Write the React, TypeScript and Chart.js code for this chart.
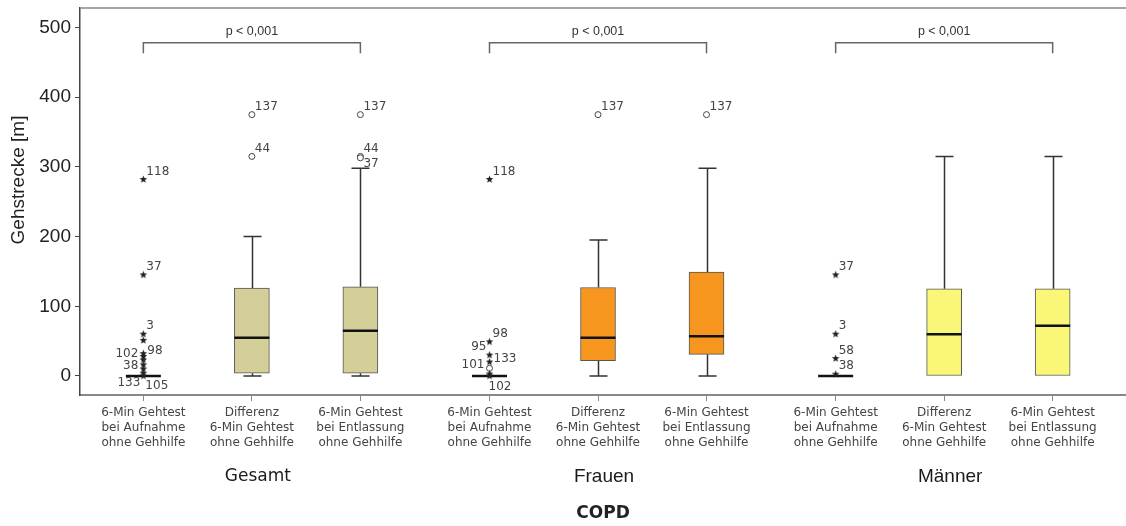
import React, { useEffect, useRef } from 'react';
import { Chart, registerables } from 'chart.js';

Chart.register(...registerables);

// ---- data ---------------------------------------------------------------
const groupNames = ['Gesamt', 'Frauen', 'Männer'];
const measureLabels = [
  ['6-Min Gehtest', 'bei Aufnahme', 'ohne Gehhilfe'],
  ['Differenz', '6-Min Gehtest', 'ohne Gehhilfe'],
  ['6-Min Gehtest', 'bei Entlassung', 'ohne Gehhilfe'],
];
const groupColors = ['#d4cf98', '#f7961e', '#faf778'];
const yAxisTitle = 'Gehstrecke [m]';
const xAxisTitle = 'COPD';
const pValueText = 'p < 0,001';
const yTickValues = [0, 100, 200, 300, 400, 500];

// Box statistics, ordered Gesamt (3 boxes), Frauen (3), Männer (3)
const whiskerLow = [0, 0, 0, 0, 0, 0, 0, 0, 0];
const quartile1 = [0, 4, 4, 0, 22, 31, 0, 0, 0];
const medians = [0, 55, 65, 0, 55, 57, 0, 60, 72];
const quartile3 = [0, 126, 128, 0, 127, 149, 0, 125, 125];
const whiskerHigh = [0, 200, 298, 0, 195, 298, 0, 315, 315];

// Extreme values (*): [box, value, case number]
const extremes: [number, number, string][] = [
  [0, 282, '118'], [0, 145, '37'], [0, 60, '3'], [0, 51, ''], [0, 32, '98'],
  [0, 28, '102'], [0, 23, ''], [0, 16, ''], [0, 10, '38'], [0, 4, '133'], [0, 0, '105'],
  [3, 282, '118'], [3, 49, '98'], [3, 30, '95'], [3, 20, '133'], [3, 3, ''], [3, 0, '102'],
  [6, 145, '37'], [6, 60, '3'], [6, 25, '58'], [6, 2.5, '38'],
];
// Outliers (o): [box, value, case number]
const outliers: [number, number, string][] = [
  [1, 375, '137'], [1, 315, '44'],
  [2, 375, '137'], [2, 315, '44'], [2, 313, '37'],
  [3, 11, '101'],
  [4, 375, '137'],
  [5, 375, '137'],
];

// ---- layout -------------------------------------------------------------
const GROUP_STEP = 3.19;
const X_MIN = -0.584;
const X_MAX = 9.056;
const Y_MIN = -27.3;
const Y_MAX = 528;
const BOX_WIDTH = 35;
const CAP_WIDTH = 18;
const BRACKET_TOP = 478;
const BRACKET_END = 463;
const P_TEXT_Y = 494;

const boxPosition = (k: number) => Math.floor(k / 3) * GROUP_STEP + (k % 3);
const positions = medians.map((_, k) => boxPosition(k));

// where each case label sits relative to its marker
type Side = 'ur' | 'r' | 'l' | 'ul' | 'lr' | 'bl' | 'br' | 'b';
const labelSide: Record<string, Side> = {
  '0-98': 'r', '0-102': 'l', '0-38': 'l', '0-133': 'bl', '0-105': 'br',
  '2-37': 'lr',
  '3-95': 'ul', '3-133': 'r', '3-101': 'l', '3-102': 'b',
};
const groupLabelFonts = ['17px "DejaVu Sans"', '19px "Liberation Sans"', '19px "Liberation Sans"'];

function makeStar(): HTMLCanvasElement {
  const c = document.createElement('canvas');
  c.width = 9;
  c.height = 9;
  const g = c.getContext('2d')!;
  g.fillStyle = '#222';
  g.beginPath();
  for (let k = 0; k < 10; k++) {
    const r = k % 2 === 0 ? 4 : 1.7;
    const a = -Math.PI / 2 + (k * Math.PI) / 5;
    const px = 4.5 + r * Math.cos(a);
    const py = 4.5 + r * Math.sin(a);
    if (k === 0) g.moveTo(px, py);
    else g.lineTo(px, py);
  }
  g.closePath();
  g.fill();
  return c;
}

const boxDecor = {
  id: 'boxDecor',
  beforeDatasetsDraw(chart: any) {
    const { ctx, scales } = chart;
    const xs = scales.x;
    const ys = scales.y;
    ctx.save();
    ctx.strokeStyle = '#333';
    ctx.lineWidth = 1.5;
    positions.forEach((p, k) => {
      const cx = Math.round(xs.getPixelForValue(p)) + 0.5;
      const yLo = ys.getPixelForValue(whiskerLow[k]);
      const yQ1 = ys.getPixelForValue(quartile1[k]);
      const yQ3 = ys.getPixelForValue(quartile3[k]);
      const yHi = ys.getPixelForValue(whiskerHigh[k]);
      ctx.beginPath();
      if (whiskerHigh[k] > quartile3[k]) {
        ctx.moveTo(cx, yQ3);
        ctx.lineTo(cx, yHi);
        ctx.moveTo(cx - CAP_WIDTH / 2, yHi);
        ctx.lineTo(cx + CAP_WIDTH / 2, yHi);
      }
      if (whiskerLow[k] < quartile1[k]) {
        ctx.moveTo(cx, yQ1);
        ctx.lineTo(cx, yLo);
        ctx.moveTo(cx - CAP_WIDTH / 2, yLo);
        ctx.lineTo(cx + CAP_WIDTH / 2, yLo);
      }
      ctx.stroke();
    });
    ctx.restore();
  },
  afterDatasetDraw(chart: any, args: any) {
    if (args.index !== 0) return;
    const { ctx, scales } = chart;
    ctx.save();
    ctx.strokeStyle = '#111';
    ctx.lineWidth = 2.5;
    positions.forEach((p, k) => {
      const cx = scales.x.getPixelForValue(p);
      const y = scales.y.getPixelForValue(medians[k]);
      ctx.beginPath();
      ctx.moveTo(cx - BOX_WIDTH / 2, y);
      ctx.lineTo(cx + BOX_WIDTH / 2, y);
      ctx.stroke();
    });
    ctx.restore();
  },
  afterDatasetsDraw(chart: any) {
    const { ctx, scales, chartArea } = chart;
    const xs = scales.x;
    const ys = scales.y;
    ctx.save();

    // frame line along the top
    ctx.strokeStyle = '#888';
    ctx.lineWidth = 1.5;
    ctx.beginPath();
    ctx.moveTo(chartArea.left, chartArea.top);
    ctx.lineTo(chartArea.right, chartArea.top);
    ctx.stroke();

    // case numbers next to outliers and extremes
    ctx.font = '12px "DejaVu Sans"';
    ctx.fillStyle = '#444';
    ctx.textBaseline = 'middle';
    [...extremes, ...outliers].forEach(([box, v, id]) => {
      if (!id) return;
      const px = xs.getPixelForValue(positions[box]);
      const py = ys.getPixelForValue(v);
      const side = labelSide[`${box}-${id}`] || 'ur';
      let tx = px + 3;
      let ty = py - 8;
      let align: CanvasTextAlign = 'left';
      if (side === 'r') { tx = px + 4; ty = py - 3; }
      else if (side === 'l') { tx = px - 5; ty = py - 3; align = 'right'; }
      else if (side === 'ul') { tx = px - 3; ty = py - 8; align = 'right'; }
      else if (side === 'lr') { tx = px + 3; ty = py + 6; }
      else if (side === 'bl') { tx = px - 3; ty = py + 10; align = 'right'; }
      else if (side === 'br') { tx = px + 2; ty = py + 10; }
      else if (side === 'b') { tx = px - 1; ty = py + 11; }
      ctx.textAlign = align;
      ctx.fillText(id, tx, ty);
    });

    // significance brackets per group
    ctx.strokeStyle = '#666';
    ctx.lineWidth = 1.5;
    groupNames.forEach((_, g) => {
      const x1 = xs.getPixelForValue(positions[g * 3]);
      const x2 = xs.getPixelForValue(positions[g * 3 + 2]);
      const yt = ys.getPixelForValue(BRACKET_TOP);
      const ye = ys.getPixelForValue(BRACKET_END);
      ctx.beginPath();
      ctx.moveTo(x1, ye);
      ctx.lineTo(x1, yt);
      ctx.lineTo(x2, yt);
      ctx.lineTo(x2, ye);
      ctx.stroke();
      ctx.font = '12.5px "Liberation Sans"';
      ctx.fillStyle = '#333';
      ctx.textAlign = 'center';
      ctx.fillText(pValueText, (x1 + x2) / 2, ys.getPixelForValue(P_TEXT_Y));
    });

    // group names under the category labels
    groupNames.forEach((name, g) => {
      ctx.font = groupLabelFonts[g];
      ctx.fillStyle = '#1a1a1a';
      ctx.textAlign = 'center';
      ctx.fillText(name, xs.getPixelForValue(positions[g * 3 + 1]) + 6, 477);
    });

    // y axis title
    ctx.translate(19, 180);
    ctx.rotate(-Math.PI / 2);
    ctx.font = '19px "Liberation Sans"';
    ctx.fillStyle = '#222';
    ctx.textAlign = 'center';
    ctx.fillText(yAxisTitle, 0, 0);
    ctx.restore();
  },
};

export default function App() {
  const canvasRef = useRef<HTMLCanvasElement | null>(null);

  useEffect(() => {
    const canvas = canvasRef.current;
    if (!canvas) return;
    const star = makeStar();

    const chart = new Chart(canvas, {
      type: 'bar',
      data: {
        datasets: [
          {
            type: 'bar',
            order: 3,
            data: positions.map((p, k) => ({ x: p, y: [quartile1[k], quartile3[k]] })) as any,
            backgroundColor: positions.map((_, k) => groupColors[Math.floor(k / 3)]),
            borderColor: '#555',
            borderWidth: 1,
            borderSkipped: false,
            barThickness: BOX_WIDTH,
          } as any,
          {
            type: 'scatter',
            order: 1,
            data: extremes.map(([box, v]) => ({ x: positions[box], y: v })),
            pointStyle: star as any,
            pointRadius: 4,
          } as any,
          {
            type: 'scatter',
            order: 1,
            data: outliers.map(([box, v]) => ({ x: positions[box], y: v })),
            pointStyle: 'circle',
            pointRadius: 3,
            backgroundColor: '#fff',
            borderColor: '#444',
            borderWidth: 1,
          } as any,
        ],
      },
      options: {
        responsive: false,
        animation: false,
        devicePixelRatio: 1,
        layout: { autoPadding: false, padding: { top: 8, left: 0, right: 0, bottom: 0 } },
        plugins: { legend: { display: false }, tooltip: { enabled: false } },
        scales: {
          x: {
            type: 'linear',
            min: X_MIN,
            max: X_MAX,
            offset: false,
            afterBuildTicks: (s: any) => {
              s.ticks = positions.map((v) => ({ value: v }));
            },
            afterFit: (s: any) => {
              s.height = 131;
              s.paddingLeft = 0;
              s.paddingRight = 0;
            },
            ticks: {
              autoSkip: false,
              maxRotation: 0,
              padding: 5,
              color: '#444',
              font: { family: '"DejaVu Sans"', size: 12, lineHeight: 1.22 },
              callback: (_v: any, i: number) => measureLabels[i % 3],
            },
            grid: { offset: false, drawOnChartArea: false, drawTicks: true, tickLength: 6, color: '#888' },
            border: { color: '#888', width: 2 },
            title: {
              display: true,
              text: xAxisTitle,
              color: '#222',
              font: { family: '"DejaVu Sans"', size: 17, weight: 'bold' },
              padding: { top: 0, bottom: 2 },
            },
          },
          y: {
            type: 'linear',
            min: Y_MIN,
            max: Y_MAX,
            afterBuildTicks: (s: any) => {
              s.ticks = yTickValues.map((v) => ({ value: v }));
            },
            afterFit: (s: any) => {
              s.width = 80;
              s.paddingTop = 0;
              s.paddingBottom = 0;
            },
            ticks: {
              padding: 4,
              color: '#222',
              font: { family: '"Liberation Sans"', size: 19, lineHeight: 0.8 },
            },
            grid: { drawOnChartArea: false, drawTicks: true, tickLength: 5, color: '#444' },
            border: { color: '#444', width: 1.5 },
          },
        },
      } as any,
      plugins: [boxDecor],
    });

    return () => chart.destroy();
  }, []);

  return (
    <div style={{ position: 'absolute', left: 0, top: 0, width: 1126, height: 526, background: '#fff' }}>
      <canvas ref={canvasRef} width={1126} height={526} style={{ display: 'block' }} />
    </div>
  );
}
